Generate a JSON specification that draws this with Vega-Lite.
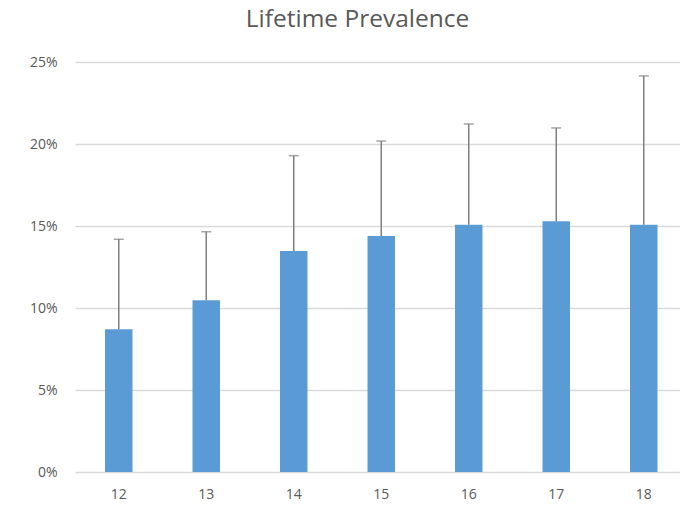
{
  "$schema": "https://vega.github.io/schema/vega-lite/v6.json",
  "autosize": "none",
  "width": 605,
  "height": 410,
  "padding": {"left": 75, "top": 62, "right": 0, "bottom": 33},
  "background": "white",
  "title": {
    "text": "Lifetime Prevalence",
    "anchor": "middle",
    "frame": "group",
    "dx": -20,
    "offset": 23,
    "font": "Open Sans",
    "fontSize": 24.5,
    "fontWeight": "normal",
    "color": "#595959"
  },
  "config": {
    "view": {"stroke": null},
    "axis": {"labelFont": "Open Sans", "labelFontSize": 14, "labelColor": "#595959", "domain": false, "ticks": false, "title": null}
  },
  "data": {
    "values": [
      {"age": "12", "prevalence": 0.087, "upper": 0.1419},
      {"age": "13", "prevalence": 0.1047, "upper": 0.1465},
      {"age": "14", "prevalence": 0.1348, "upper": 0.1929},
      {"age": "15", "prevalence": 0.1439, "upper": 0.2018},
      {"age": "16", "prevalence": 0.1508, "upper": 0.2122},
      {"age": "17", "prevalence": 0.1529, "upper": 0.2098},
      {"age": "18", "prevalence": 0.1508, "upper": 0.2415}
    ]
  },
  "encoding": {
    "x": {
      "field": "age",
      "type": "ordinal",
      "scale": {"range": [0, 612.5], "paddingInner": 0.686, "paddingOuter": 0.343},
      "axis": {"labelAngle": 0, "labelPadding": 15, "grid": false}
    }
  },
  "layer": [
    {
      "mark": {"type": "bar", "color": "#5b9bd5"},
      "encoding": {
        "y": {
          "field": "prevalence",
          "type": "quantitative",
          "scale": {"domain": [0, 0.25], "nice": false},
          "axis": {"format": "%", "values": [0, 0.05, 0.1, 0.15, 0.2, 0.25], "grid": true, "gridColor": "#d9d9d9", "gridWidth": 1.5, "labelPadding": 18}
        }
      }
    },
    {
      "mark": {"type": "rule", "color": "#7f7f7f", "strokeWidth": 1.5},
      "encoding": {
        "y": {"field": "prevalence", "type": "quantitative"},
        "y2": {"field": "upper"}
      }
    },
    {
      "mark": {"type": "tick", "color": "#7f7f7f", "size": 10, "thickness": 1.5},
      "encoding": {
        "y": {"field": "upper", "type": "quantitative"}
      }
    }
  ]
}
